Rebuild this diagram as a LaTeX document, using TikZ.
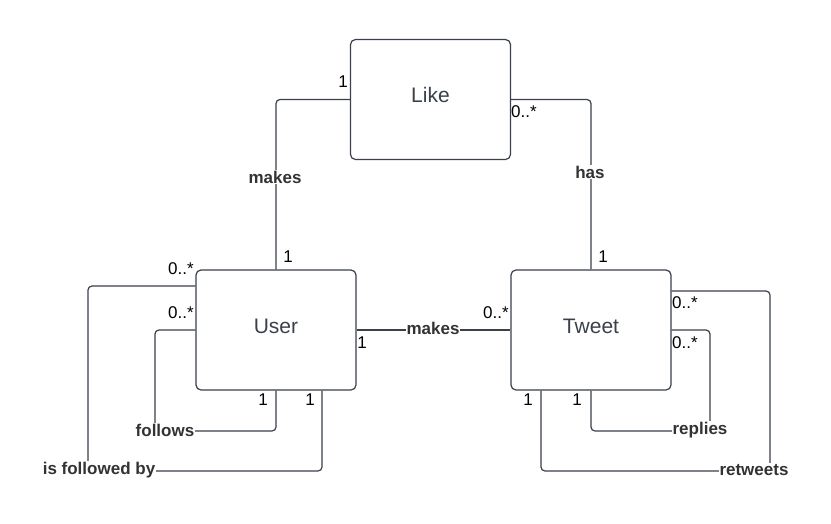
\documentclass[tikz,border=0pt]{standalone}
\usepackage{fontspec}
\setmainfont{Liberation Sans}
\usetikzlibrary{positioning, calc}
\definecolor{LineGrey}{HTML}{3A414A}
\definecolor{TextDark}{HTML}{333333}
\tikzset{
    % Entity boxes with slightly rounded corners
    entity/.style={
        rectangle,
        rounded corners=5pt,
        draw=LineGrey,
        fill=white,
        line width=1.2pt,
        minimum width=160pt,
        minimum height=120pt,
        text height=15pt,
        text depth=9pt,
        text=LineGrey,
        font=\fontsize{21}{25}\selectfont
    },
    link/.style={
        draw=LineGrey,
        line width=1.2pt,
        rounded corners=4pt
    },
    rel label/.style={
        fill=white,
        inner sep=1pt,
        text=TextDark,
        font=\fontsize{17}{20}\selectfont\bfseries
    },
    mult/.style={
        inner sep=0pt,
        text=black,
        font=\fontsize{17}{20}\selectfont
    }
}

\begin{document}
\begin{tikzpicture}[x=1pt, y=-1pt]
        \fill[white] (0,0) rectangle (831,523);
        \useasboundingbox (0,0) rectangle (831,523);

        % Entities
        \node[entity] (like) at (430.5, 99.5) {Like};
        \node[entity] (user) at (276, 330) {User};
        \node[entity] (tweet) at (591, 330) {Tweet};

        % Loop corners
        \coordinate (followedcorner) at (88, 471);
        \coordinate (followscorner) at (155, 431);
        \coordinate (repliescorner) at (710, 431);
        \coordinate (retweetscorner) at (770, 471);

        % Associations
        \draw[link] (like.west) -| (user.north);
        \draw[link] (like.east) -| (tweet.north);
        \draw[link, line width=1.6pt] (user.east) -- (tweet.west);
        \draw[link] ([yshift=44pt]user.west) -| (followedcorner) -| ([xshift=46pt]user.south);
        \draw[link] (user.west) -| (followscorner) -| (user.south);
        \draw[link] (tweet.east) -| (repliescorner) -| (tweet.south);
        \draw[link] ([yshift=39pt]tweet.east) -| (retweetscorner) -| ([xshift=-50pt]tweet.south);

        % Association names
        \node[rel label] (likemakes) at (275, 177) {makes};
        \node[rel label] (likehas) at (590, 172) {has};
        \node[rel label] (tweetmakes) at (433, 328) {makes};
        \node[rel label] (isfollowed) at (99, 470) {is followed by};
        \node[rel label] (follows) at (165, 430) {follows};
        \node[rel label] (replies) at (700, 430) {replies};
        \node[rel label] (retweets) at (754, 470) {retweets};

        % Multiplicities
        \node[mult] at (343, 82) {1};
        \node[mult] at (524, 112) {0..*};
        \node[mult] at (288, 257) {1};
        \node[mult] at (603, 257) {1};
        \node[mult] at (181, 269) {0..*};
        \node[mult] at (181, 313) {0..*};
        \node[mult] at (362, 343) {1};
        \node[mult] at (263, 400) {1};
        \node[mult] at (310, 400) {1};
        \node[mult] at (496, 313) {0..*};
        \node[mult] at (685, 303) {0..*};
        \node[mult] at (685, 343) {0..*};
        \node[mult] at (528, 400) {1};
        \node[mult] at (577, 400) {1};
\end{tikzpicture}
\end{document}
